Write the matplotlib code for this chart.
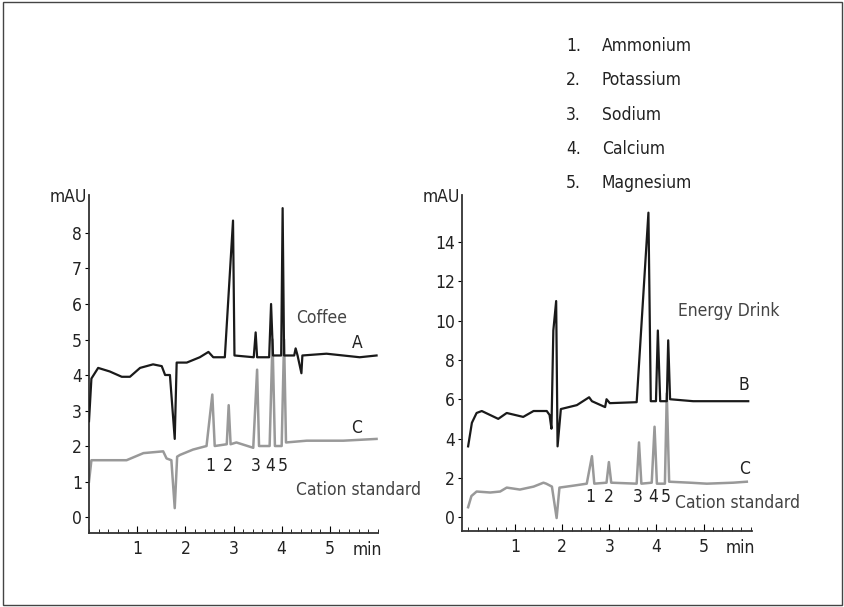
import matplotlib
matplotlib.use("Agg")
import matplotlib.pyplot as plt
from matplotlib.patches import Rectangle
from matplotlib.ticker import MultipleLocator

plt.rcParams['font.family'] = ['DejaVu Sans']
plt.rcParams['font.stretch'] = 'condensed'

# Coffee (A)
coffee_t = [0.0, 0.05, 0.19, 0.43, 0.68, 0.85, 1.06, 1.33, 1.51, 1.58, 1.68, 1.78, 1.82, 2.03, 2.3, 2.48, 2.58,
            2.82, 2.99, 3.02, 3.42, 3.46, 3.49, 3.74, 3.78, 3.82, 3.99, 4.02, 4.05, 4.26, 4.29, 4.33, 4.41, 4.43,
            4.93, 5.62, 5.97]
coffee_y = [2.7, 3.9, 4.2, 4.1, 3.95, 3.95, 4.2, 4.3, 4.25, 4.0, 4.0, 2.2, 4.35, 4.35, 4.5, 4.65, 4.5,
            4.5, 8.35, 4.55, 4.5, 5.2, 4.5, 4.5, 6.0, 4.55, 4.55, 8.7, 4.55, 4.55, 4.75, 4.55, 4.05, 4.55,
            4.6, 4.5, 4.55]
# Cation standard (C), left panel
std1_t = [0.0, 0.05, 0.43, 0.78, 1.13, 1.54, 1.61, 1.71, 1.78, 1.83, 1.89, 2.16, 2.44, 2.56, 2.61, 2.86, 2.9,
          2.94, 3.06, 3.41, 3.49, 3.53, 3.75, 3.81, 3.86, 4.0, 4.05, 4.09, 4.52, 5.28, 5.97]
std1_y = [1.0, 1.6, 1.6, 1.6, 1.8, 1.85, 1.65, 1.6, 0.25, 1.7, 1.75, 1.9, 2.0, 3.45, 2.0, 2.05, 3.15,
          2.05, 2.1, 1.95, 4.15, 2.0, 2.0, 5.0, 2.0, 2.0, 5.0, 2.1, 2.15, 2.15, 2.2]
# Energy drink (B)
energy_t = [0.0, 0.08, 0.18, 0.29, 0.64, 0.82, 1.17, 1.39, 1.67, 1.73, 1.77, 1.81, 1.87, 1.9, 1.97, 2.31, 2.57,
            2.63, 2.91, 2.94, 3.01, 3.58, 3.83, 3.88, 3.99, 4.03, 4.08, 4.22, 4.25, 4.29, 4.78, 5.95]
energy_y = [3.6, 4.8, 5.3, 5.4, 5.0, 5.3, 5.1, 5.4, 5.4, 5.2, 4.5, 9.5, 11.0, 3.6, 5.5, 5.7, 6.1,
            5.9, 5.6, 6.0, 5.8, 5.85, 15.5, 5.9, 5.9, 9.5, 5.9, 5.9, 9.0, 6.0, 5.9, 5.9]
# Cation standard (C), right panel
std2_t = [0.0, 0.07, 0.18, 0.47, 0.68, 0.82, 1.1, 1.39, 1.6, 1.66, 1.78, 1.88, 1.94, 2.24, 2.52, 2.63, 2.68,
          2.94, 2.99, 3.04, 3.58, 3.63, 3.68, 3.9, 3.96, 4.01, 4.18, 4.22, 4.27, 4.71, 5.07, 5.63, 5.92]
std2_y = [0.5, 1.07, 1.3, 1.25, 1.3, 1.5, 1.4, 1.55, 1.75, 1.7, 1.55, -0.05, 1.5, 1.6, 1.7, 3.1, 1.7,
          1.75, 2.8, 1.75, 1.7, 3.8, 1.7, 1.75, 4.6, 1.7, 1.7, 6.3, 1.8, 1.75, 1.7, 1.75, 1.8]

peak_labels = ["1", "2", "3", "4", "5"]
ions = ["Ammonium", "Potassium", "Sodium", "Calcium", "Magnesium"]

W, H = 845, 607
fig = plt.figure(figsize=(W/100, H/100), dpi=100)
fig.patches.append(Rectangle((0.003, 0.003), 0.994, 0.994, transform=fig.transFigure,
                             fill=False, edgecolor='#444444', linewidth=1.0))

def ax_px(x0, x1, y0, y1):
    return fig.add_axes([x0/W, 1-y1/H, (x1-x0)/W, (y1-y0)/H])

BLACK = '#1a1a1a'
GRAY = '#999999'
FS = 12.5
TXT = '#222222'

def style(ax, xlim, ylim, ystep):
    ax.set_xlim(*xlim); ax.set_ylim(*ylim)
    for s in ['top', 'right']:
        ax.spines[s].set_visible(False)
    for s in ['left', 'bottom']:
        ax.spines[s].set_color('#333333'); ax.spines[s].set_linewidth(1.3)
    ax.xaxis.set_minor_locator(MultipleLocator(0.2))
    ax.set_xticks([1, 2, 3, 4, 5])
    ax.tick_params(axis='x', which='major', direction='in', length=5, labelsize=FS, pad=5, labelcolor=TXT)
    ax.tick_params(axis='x', which='minor', direction='in', length=3)
    ax.tick_params(axis='y', direction='out', length=3, labelsize=FS, pad=2, labelcolor=TXT)
    ax.patch.set_alpha(0)
    ax.annotate("min", xy=(5.78, 0), xycoords=('data', 'axes fraction'), xytext=(0, -12.5),
                textcoords='offset points', ha='center', va='center', fontsize=FS, color=TXT)

# Left panel
ax1 = ax_px(89, 378, 195, 533)
ax1.plot(std1_t, std1_y, color=GRAY, lw=1.8, zorder=2)
ax1.plot(coffee_t, coffee_y, color=BLACK, lw=1.6, zorder=3)
style(ax1, (0, 6.0), (-0.45, 9.07), 1)
ax1.set_yticks(range(0, 9))
ax1.text(-0.05, 9.0, "mAU", ha='right', va='center', fontsize=FS, color=TXT)
ax1.text(4.3, 5.6, "Coffee", fontsize=FS, color='#444444', va='center')
ax1.text(5.45, 4.9, "A", fontsize=FS, va='center', color=TXT)
ax1.text(5.45, 2.5, "C", fontsize=FS, va='center', color=TXT)
ax1.text(4.3, 0.75, "Cation standard", fontsize=FS, color='#444444', va='center')
for lab, x in zip(peak_labels, [2.52, 2.88, 3.47, 3.76, 4.03]):
    ax1.text(x, 1.45, lab, fontsize=FS, ha='center', va='center', color=TXT)

# Right panel
ax2 = ax_px(462, 752, 195, 531)
ax2.plot(std2_t, std2_y, color=GRAY, lw=1.8, zorder=2)
ax2.plot(energy_t, energy_y, color=BLACK, lw=1.6, zorder=3)
style(ax2, (-0.13, 6.03), (-0.71, 16.4), 2)
ax2.set_yticks(range(0, 15, 2))
ax2.text(-0.18, 16.3, "mAU", ha='right', va='center', fontsize=FS, color=TXT)
ax2.text(4.45, 10.5, "Energy Drink", fontsize=FS, color='#444444', va='center')
ax2.text(5.75, 6.7, "B", fontsize=FS, va='center', color=TXT)
ax2.text(5.75, 2.45, "C", fontsize=FS, va='center', color=TXT)
ax2.text(4.4, 0.7, "Cation standard", fontsize=FS, color='#444444', va='center')
for lab, x in zip(peak_labels, [2.6, 2.98, 3.6, 3.94, 4.2]):
    ax2.text(x, 1.0, lab, fontsize=FS, ha='center', va='center', color=TXT)

# Ion list
for i, name in enumerate(ions):
    y = 1 - (46 + i*34.3)/H
    fig.text(566/W, y, f"{i+1}.", fontsize=FS, va='center', color=TXT)
    fig.text(602/W, y, name, fontsize=FS, va='center', color=TXT)

fig.savefig("out.png", dpi=100)
